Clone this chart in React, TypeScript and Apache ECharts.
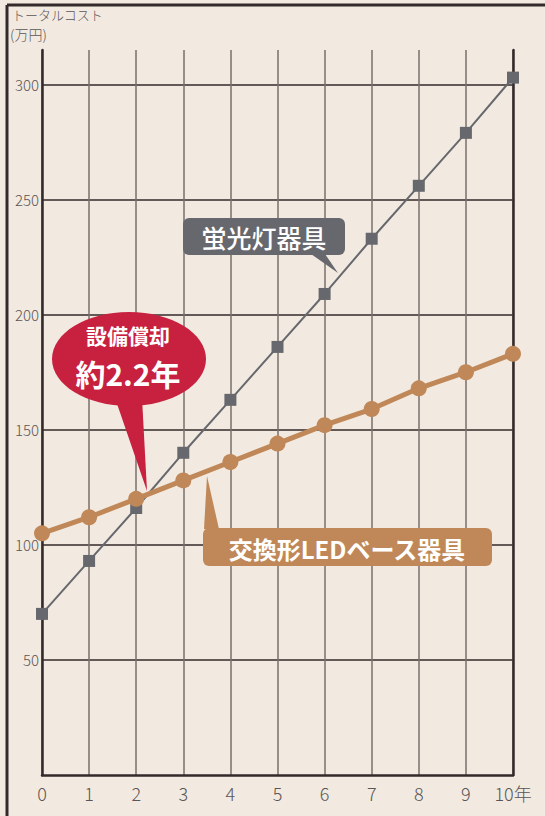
import React, { useEffect, useRef } from "react";
import * as echarts from "echarts";

const years = [0, 1, 2, 3, 4, 5, 6, 7, 8, 9, 10];
const fluorescent = [70, 93, 116, 140, 163, 186, 209, 233, 256, 279, 303];
const ledBase = [105, 112, 120, 128, 136, 144, 152, 159, 168, 175, 183];
const yTicks = [50, 100, 150, 200, 250, 300];
const yTitle1 = "トータルコスト";
const yTitle2 = "(万円)";
const xUnit = "年";
const labelFluor = "蛍光灯器具";
const labelLed = "交換形LEDベース器具";
const payback1 = "設備償却";
const payback2 = "約2.2年";

const BG = "#f2eae0";
const GRAY = "#67686d";
const BROWN = "#c08858";
const RED = "#c8203f";
const JP = "'Noto Sans CJK JP', 'Noto Sans', sans-serif";

export default function App() {
  const ref = useRef<HTMLDivElement>(null);
  useEffect(() => {
    document.body.style.margin = "0";
    document.body.style.background = BG;
    if (!ref.current) return;
    const chart = echarts.init(ref.current, undefined, { renderer: "svg" });
    const darkLine = "#332a2b";
    const splitColors = ["rgba(0,0,0,0)", ...yTicks.map(() => darkLine), "rgba(0,0,0,0)"];
    chart.setOption({
      animation: false,
      backgroundColor: BG,
      grid: { left: 42, right: 32, top: 50, bottom: 41 },
      xAxis: {
        type: "value",
        min: 0,
        max: 10,
        interval: 1,
        axisLine: { show: true, onZero: false, lineStyle: { color: darkLine, width: 2.5 } },
        axisTick: { show: false },
        splitLine: { show: true, lineStyle: { color: "#7a6f6c", width: 1.5 } },
        axisLabel: {
          color: "#5a5556",
          fontSize: 18,
          fontWeight: 300,
          fontFamily: JP,
          margin: 9,
          formatter: (v: number) => (v === 10 ? "10" + xUnit : String(v)),
        },
      },
      yAxis: [
        {
          type: "value",
          min: 0,
          max: 315,
          interval: 50,
          axisLine: { show: true, lineStyle: { color: darkLine, width: 2.5 } },
          axisTick: { show: false },
          splitLine: { show: true, lineStyle: { color: splitColors, width: 1.5 } },
          axisLabel: {
            color: "#5a5556",
            fontSize: 15,
            fontWeight: 300,
            fontFamily: JP,
            margin: 3,
            formatter: (v: number) => (yTicks.includes(v) ? String(v) : ""),
          },
        },
        {
          type: "value",
          position: "right",
          min: 0,
          max: 315,
          axisLine: { show: true, lineStyle: { color: darkLine, width: 2.5 } },
          axisTick: { show: false },
          axisLabel: { show: false },
          splitLine: { show: false },
        },
      ],
      series: [
        {
          type: "line",
          name: labelFluor,
          data: years.map((x, i) => [x, fluorescent[i]]),
          symbol: "rect",
          symbolSize: 12,
          lineStyle: { color: GRAY, width: 2 },
          itemStyle: { color: GRAY },
          z: 3,
        },
        {
          type: "line",
          name: labelLed,
          data: years.map((x, i) => [x, ledBase[i]]),
          symbol: "circle",
          symbolSize: 16,
          lineStyle: { color: BROWN, width: 5 },
          itemStyle: { color: BROWN },
          z: 4,
        },
      ],
      graphic: [
        { type: "line", shape: { x1: 7, y1: 5, x2: 545, y2: 5 }, style: { stroke: darkLine, lineWidth: 3 }, z: 10 },
        { type: "line", shape: { x1: 7, y1: 5, x2: 7, y2: 816 }, style: { stroke: darkLine, lineWidth: 3 }, z: 10 },
        { type: "text", left: 12, top: 8, style: { text: yTitle1, fontSize: 13, fill: "#5a5556", fontFamily: JP, fontWeight: 300 } },
        { type: "text", left: 10, top: 27, style: { text: yTitle2, fontSize: 14, fill: "#5a5556", fontFamily: JP, fontWeight: 300 } },
        // Fluorescent callout
        { type: "polygon", shape: { points: [[311, 254], [325, 254], [338, 273]] }, style: { fill: GRAY }, z: 20 },
        { type: "rect", shape: { x: 183, y: 218, width: 162, height: 37, r: 6 }, style: { fill: GRAY }, z: 20 },
        {
          type: "text", x: 264, y: 237, z: 21,
          style: { text: labelFluor, fontSize: 25, fill: "#ffffff", fontFamily: JP, fontWeight: 500, align: "center", verticalAlign: "middle" },
        },
        // LED callout
        { type: "polygon", shape: { points: [[207, 476], [204, 529], [219, 529]] }, style: { fill: BROWN }, z: 20 },
        { type: "rect", shape: { x: 203, y: 528, width: 289, height: 38, r: 6 }, style: { fill: BROWN }, z: 20 },
        {
          type: "text", x: 347, y: 548, z: 21,
          style: { text: labelLed, fontSize: 24, fill: "#ffffff", fontFamily: JP, fontWeight: "bold", align: "center", verticalAlign: "middle" },
        },
        // Payback callout
        { type: "polygon", shape: { points: [[115, 398], [142, 398], [147, 491]] }, style: { fill: RED }, z: 20 },
        { type: "ellipse", shape: { cx: 129, cy: 359, rx: 77, ry: 47 }, style: { fill: RED }, z: 20 },
        {
          type: "text", x: 128, y: 335, z: 21,
          style: { text: payback1, fontSize: 21, fill: "#ffffff", fontFamily: JP, fontWeight: "bold", align: "center", verticalAlign: "middle" },
        },
        {
          type: "text", x: 128, y: 373, z: 21,
          style: { text: payback2, fontSize: 30, fill: "#ffffff", fontFamily: JP, fontWeight: "bold", align: "center", verticalAlign: "middle" },
        },
      ],
    });
    return () => chart.dispose();
  }, []);
  return <div ref={ref} style={{ width: 545, height: 816 }} />;
}
